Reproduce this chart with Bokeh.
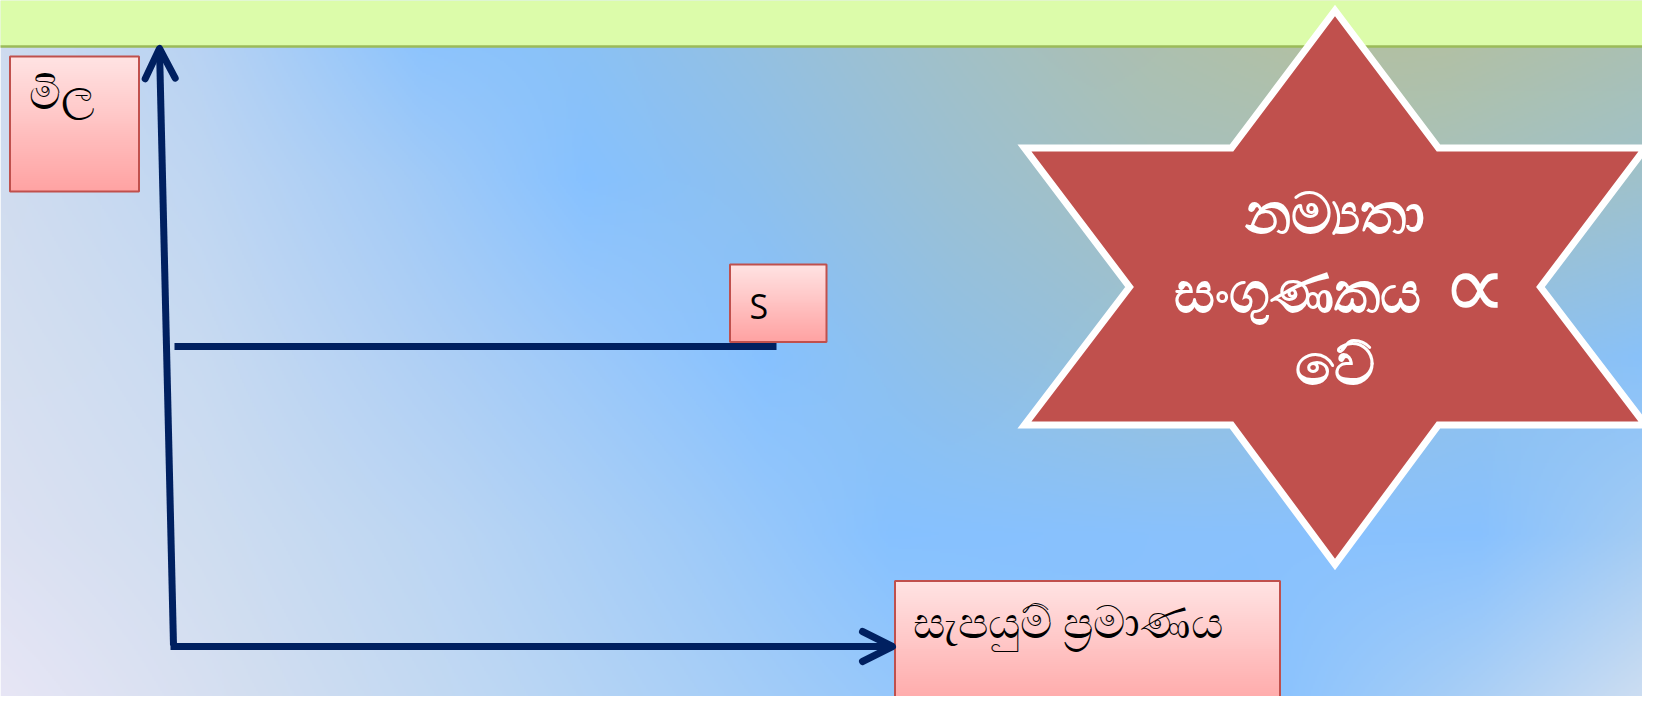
import numpy as np
from bokeh.plotting import figure
from bokeh.models import Range1d, Arrow, OpenHead
from bokeh.core.properties import value
from bokeh.embed import file_html
from bokeh.resources import INLINE

W, H = 1658, 712
FW, FH = 1642, 696  # figure size that fits the window with the page margin

# ---------------- content ----------------
price_label = ["මිල"]
quantity_label = ["සැපයුම් ප්\u200dරමාණය"]
supply_label = ["S"]
star_lines = ["නම්\u200dයතා", "සංගුණකය", "වේ"]
star_symbol = ["∝"]

# perfectly elastic supply: one price level for every quantity (diagram units, y from top)
supply_quantity = [174, 776]
supply_price = [346, 346]

# ---------------- styling ----------------
NAVY = "#002060"
RED = "#C0504D"
BANNER_FILL = "#DCFCAA"
BANNER_LINE = "#9BBB59"

# background colour stops: (row y, [(x, colour), ...])
bg_rows = [
    (0, [(0, "#CDDAEF"), (200, "#B5D1F3"), (300, "#A0CAF8"), (420, "#86C1FF"), (530, "#88C1F8"),
         (700, "#92C0E4"), (900, "#A0C0CA"), (1100, "#ACBFB0"), (1300, "#B5C09C"), (1450, "#B5C09C"),
         (1658, "#ADC0AC")]),
    (178, [(0, "#D0DCEF"), (200, "#BFD6F2"), (400, "#A4CBF6"), (585, "#86C1FF"), (750, "#8DC0EE"),
           (950, "#9BC0D3"), (1150, "#A6C0BE"), (1400, "#A8C1BA"), (1658, "#9EC1CC")]),
    (356, [(0, "#D5DFF0"), (200, "#C8DAF1"), (450, "#ACCEF5"), (765, "#86C1FF"), (950, "#90C0E6"),
           (1150, "#99C1D6"), (1400, "#94C1E2"), (1658, "#88C1FA")]),
    (534, [(0, "#DCE1F2"), (200, "#CFDDF0"), (450, "#BAD5F3"), (700, "#9ECAF8"), (890, "#86C1FF"),
           (1200, "#89C1FC"), (1480, "#88C1FE"), (1658, "#A5CCF2")]),
    (712, [(0, "#E8E6F5"), (250, "#D3DEF0"), (500, "#BDD7F3"), (800, "#A0CBF8"), (1000, "#8DC4FD"),
           (1250, "#86C1FF"), (1450, "#A8CEF5"), (1658, "#D3E0F1")]),
]


def hex2rgb(h):
    h = h.lstrip("#")
    return [int(h[i:i + 2], 16) for i in (0, 2, 4)]


def Y(v):
    return H - np.asarray(v, dtype=float)


def pack(rgb):
    ny, nx, _ = rgb.shape
    out = np.empty((ny, nx), dtype=np.uint32)
    view = out.view(dtype=np.uint8).reshape((ny, nx, 4))
    view[..., :3] = np.clip(np.round(rgb), 0, 255).astype(np.uint8)
    view[..., 3] = 255
    return out


def background_image():
    nx, ny = W // 2, H // 2
    px = np.linspace(0, W, nx)
    py = np.linspace(0, H, ny)
    gy = np.array([r[0] for r in bg_rows], float)
    tmp = np.empty((len(bg_rows), nx, 3))
    for i, (_, stops) in enumerate(bg_rows):
        xs = np.array([s[0] for s in stops], float)
        cs = np.array([hex2rgb(s[1]) for s in stops], float)
        for c in range(3):
            tmp[i, :, c] = np.interp(px, xs, cs[:, c])
    img = np.empty((ny, nx, 3))
    for j in range(nx):
        for c in range(3):
            img[:, j, c] = np.interp(py, gy, tmp[:, j, c])
    return pack(img[::-1])


def vgrad(top, bottom, n=64):
    t = np.linspace(0, 1, n)[:, None]
    a = np.array(hex2rgb(top), float)
    b = np.array(hex2rgb(bottom), float)
    rgb = (b + (a - b) * t)[:, None, :]  # row 0 = bottom
    return pack(rgb)


p = figure(width=FW, height=FH, output_backend="svg", toolbar_location=None,
           x_range=Range1d(0, FW), y_range=Range1d(H - FH, H),
           x_axis_type=None, y_axis_type=None, min_border=0)
p.grid.visible = False
p.outline_line_color = None
p.background_fill_color = None
p.border_fill_color = None

# background
p.image_rgba(image=[background_image()], x=0, y=0, dw=W, dh=H)

# banner
p.quad(left=[-5], right=[1647], top=Y([-5]), bottom=Y([46]),
       fill_color=BANNER_FILL, line_color=BANNER_LINE, line_width=2.5)


def box(x0, y0, x1, y1):
    p.image_rgba(image=[vgrad("#FFE3E3", "#FFA3A3")], x=x0, y=float(Y(y1)), dw=x1 - x0, dh=y1 - y0)
    p.quad(left=[x0], right=[x1], top=Y([y0]), bottom=Y([y1]),
           fill_alpha=0, line_color=RED, line_width=2)


# label boxes
box(9.5, 56, 138.5, 191)
box(729.5, 264, 826, 341.5)
box(894.5, 580.5, 1279.5, 718)

# axes as arrows
head_kw = dict(size=30, line_color=NAVY, line_width=7, line_cap="round", line_join="round")
p.add_layout(Arrow(end=OpenHead(**head_kw), x_start=173, y_start=float(Y(645)),
                   x_end=159, y_end=float(Y(48)), line_color=NAVY, line_width=7))
p.add_layout(Arrow(end=OpenHead(**head_kw), x_start=170, y_start=float(Y(646)),
                   x_end=892, y_end=float(Y(646)), line_color=NAVY, line_width=7))

# supply curve
p.line(x=supply_quantity, y=Y(supply_price), line_color=NAVY, line_width=7)

# star
star_x = [1334.5, 1438, 1645, 1540, 1645, 1438, 1334.5, 1231, 1024, 1129, 1024, 1231]
star_y = [10, 147.5, 147.5, 286.5, 424.5, 424.5, 564, 424.5, 424.5, 286.5, 147.5, 147.5]
p.patch(x=star_x, y=Y(star_y), fill_color=RED, line_color="white", line_width=7, line_join="miter")

# texts
p.text(x=[28], y=Y([91]), text=price_label, text_align="left", text_baseline="middle",
       text_color="black", text_font=value("Noto Sans"), text_font_size="44px")
p.text(x=[912], y=Y([620]), text=quantity_label, text_align="left", text_baseline="middle",
       text_color="black", text_font=value("Noto Sans"), text_font_size="45px")
p.text(x=[749], y=Y([305]), text=supply_label, text_align="left", text_baseline="middle",
       text_color="black", text_font=value("Open Sans"), text_font_size="34px")
p.text(x=[1334.5, 1297, 1334.5], y=Y([210, 289, 361]), text=star_lines, text_align="center",
       text_baseline="middle", text_color="white", text_font=value("Noto Sans"),
       text_font_size="57px", text_font_style="bold")
p.text(x=[1474], y=Y([286]), text=star_symbol, text_align="center",
       text_baseline="middle", text_color="white", text_font=value("DejaVu Sans"),
       text_font_size="92px")

open("out.html", "w").write(file_html(p, INLINE))
